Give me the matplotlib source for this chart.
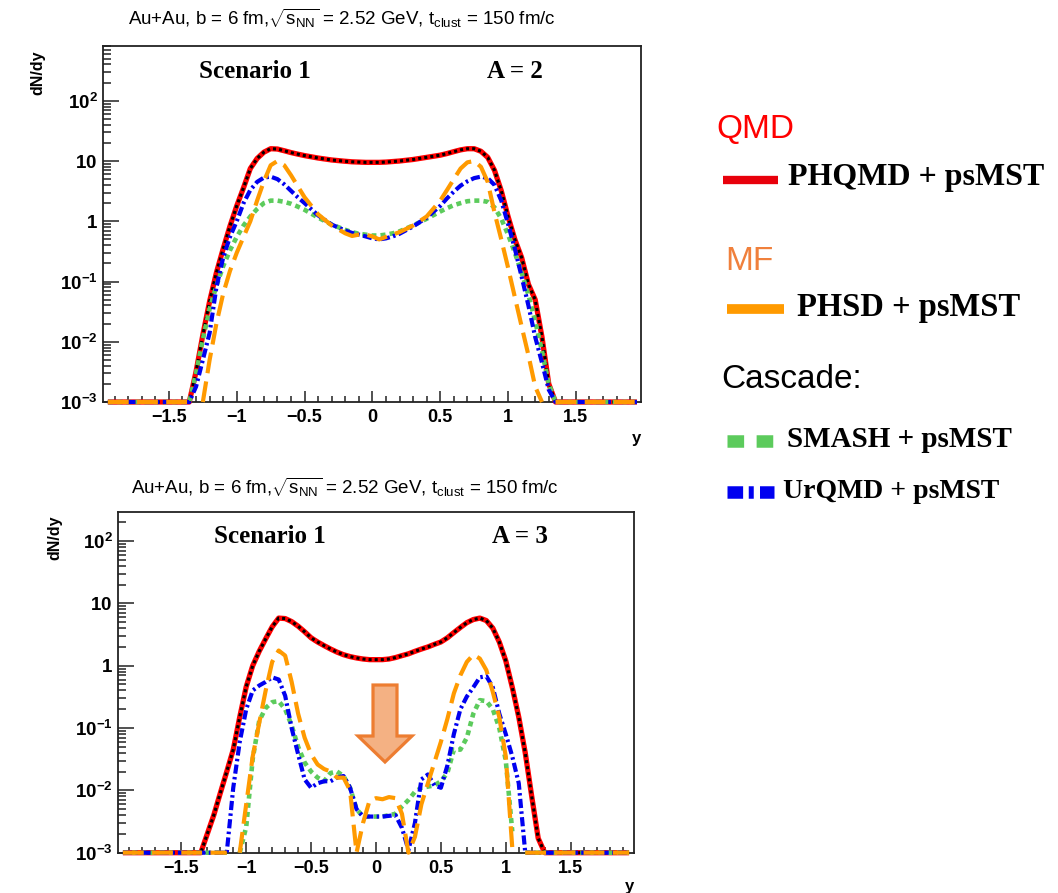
import numpy as np
import matplotlib
matplotlib.use('Agg')
import matplotlib.pyplot as plt
from matplotlib.lines import Line2D
from matplotlib.patches import Polygon
from matplotlib.ticker import FixedLocator, LogLocator, MultipleLocator, NullFormatter

plt.rcParams['font.family'] = ['Liberation Sans', 'DejaVu Sans']
plt.rcParams['mathtext.fontset'] = 'custom'
plt.rcParams['mathtext.rm'] = 'Liberation Sans'
plt.rcParams['mathtext.it'] = 'Liberation Sans:italic'
plt.rcParams['mathtext.bf'] = 'Liberation Sans:bold'
plt.rcParams['axes.unicode_minus'] = True

NA = np.nan
YMIN = 1e-3

# ---------------- data ----------------
# rapidity grid, top panel (A = 2)
Y_TOP = [-1.95, -1.35, -1.30, -1.25, -1.20, -1.15, -1.10, -1.05, -1.00, -0.95,
         -0.90, -0.85, -0.80, -0.75, -0.70, -0.65, -0.60, -0.55, -0.50, -0.40,
         -0.30, -0.20, -0.15, -0.10, -0.05, 0.00, 0.05, 0.10, 0.15, 0.20,
         0.30, 0.40, 0.50, 0.55, 0.60, 0.65, 0.70, 0.75, 0.80, 0.85,
         0.90, 0.95, 1.00, 1.05, 1.10, 1.15, 1.20, 1.25, 1.30, 1.35, 1.95]
# 0 = empty bin (drawn on the lower edge), NA = not drawn
PHQMD_A2 = [0, 0, 0.0032, 0.013, 0.047, 0.14, 0.35, 0.83, 1.8, 3.6,
            7.5, 11, 14, 16, 15.8, 14.8, 13.8, 13, 12.3, 11.2,
            10.4, 9.9, 9.7, 9.6, 9.5, 9.5, 9.5, 9.6, 9.8, 10,
            10.6, 11.5, 12.5, 13.3, 14.3, 15.3, 16, 16, 14.5, 11.5,
            7, 3.2, 1.2, 0.5, 0.25, 0.09, 0.05, 0.012, 0.002, 0, 0]
PHSD_A2 = [0, 0, NA, 0, 0.005, 0.02, 0.063, 0.15, 0.3, 0.55,
           1.0, 2.2, 4.6, 8.5, 10, 8.5, 5.8, 3.8, 2.5, 1.3,
           0.85, 0.63, 0.57, 0.6, 0.6, 0.56, 0.5, 0.55, 0.6, 0.66,
           0.85, 1.2, 2.2, 3.3, 5, 7.5, 9.5, 10, 8, 4.5,
           1.4, 0.5, 0.17, 0.055, 0.018, 0.006, 0.0018, 0, NA, 0, 0]
SMASH_A2 = [0, 0, 0.003, 0.011, 0.035, 0.085, 0.18, 0.33, 0.55, 0.85,
            1.2, 1.6, 2.0, 2.2, 2.2, 2.1, 1.95, 1.75, 1.55, 1.15,
            0.88, 0.72, 0.66, 0.62, 0.6, 0.58, 0.58, 0.6, 0.63, 0.68,
            0.85, 1.1, 1.45, 1.65, 1.85, 2.0, 2.15, 2.2, 2.2, 2.1,
            1.7, 1.1, 0.6, 0.3, 0.14, 0.06, 0.022, 0.007, 0.002, 0, 0]
URQMD_A2 = [0, 0, 0.0018, 0.005, 0.014, 0.08, 0.25, 0.55, 1.0, 2.0,
            3.3, 4.5, 5.3, 5.5, 5.0, 4.1, 3.2, 2.5, 2.0, 1.25,
            0.88, 0.7, 0.64, 0.6, 0.56, 0.52, 0.5, 0.52, 0.56, 0.62,
            0.82, 1.15, 1.8, 2.4, 3.1, 3.9, 4.6, 5.2, 5.5, 5.2,
            4.0, 2.2, 0.9, 0.35, 0.12, 0.04, 0.012, 0.0045, 0.0016, 0, 0]

# rapidity grid, bottom panel (A = 3)
Y_BOT = [-1.95, -1.35, -1.30, -1.25, -1.20, -1.15, -1.10, -1.05, -1.00, -0.95,
         -0.90, -0.85, -0.80, -0.75, -0.70, -0.65, -0.60, -0.55, -0.50, -0.45,
         -0.40, -0.35, -0.30, -0.25, -0.20, -0.15, -0.10, -0.05, 0.00, 0.05,
         0.10, 0.15, 0.20, 0.25, 0.30, 0.35, 0.40, 0.45, 0.50, 0.55,
         0.60, 0.65, 0.70, 0.75, 0.80, 0.85, 0.90, 0.95, 1.00, 1.05,
         1.10, 1.15, 1.20, 1.25, 1.30, 1.95]
PHQMD_A3 = [0, 0, 0.002, 0.004, 0.009, 0.02, 0.045, 0.15, 0.46, 1.0,
            1.7, 2.7, 4.2, 5.8, 5.7, 5.1, 4.3, 3.5, 2.8, 2.4,
            2.1, 1.85, 1.65, 1.5, 1.4, 1.33, 1.28, 1.25, 1.25, 1.25,
            1.28, 1.35, 1.45, 1.55, 1.7, 1.85, 2.0, 2.2, 2.4, 2.8,
            3.4, 4.1, 4.9, 5.5, 5.8, 5.3, 4.0, 2.4, 1.2, 0.45,
            0.15, 0.04, 0.008, 0.0017, 0, 0]
PHSD_A3 = [0, 0, 0, 0, 0, 0, NA, 0, 0.006, 0.035,
           0.12, 0.4, 1.15, 1.75, 1.45, 0.55, 0.17, 0.07, 0.038, 0.026,
           0.022, 0.02, 0.016, 0.016, 0.01, 0, 0.003, 0.0068, 0.0075, 0.0072,
           0.0078, 0.0075, 0.0042, 0, 0.0018, 0.006, 0.013, 0.028, 0.06, 0.14,
           0.36, 0.7, 1.15, 1.5, 1.3, 0.85, 0.38, 0.15, 0.035, 0.0012,
           NA, 0, 0, 0, 0, 0]
SMASH_A3 = [0, 0, 0, 0, 0, 0, NA, 0, 0.0026, 0.032,
            0.13, 0.21, 0.26, 0.27, 0.2, 0.11, 0.05, 0.028, 0.02, 0.016,
            0.014, 0.019, 0.02, 0.017, 0.011, 0.005, 0.0038, 0.0038, 0.0038, 0.0038,
            0.004, 0.0042, 0.0055, 0.007, 0.0095, 0.011, 0.0115, 0.012, 0.014, 0.019,
            0.045, 0.045, 0.07, 0.17, 0.28, 0.27, 0.2, 0.1, 0.03, 0.0022,
            NA, 0, 0, 0, 0, 0]
URQMD_A3 = [0, 0, 0, 0, 0, 0, 0.011, 0.06, 0.2, 0.4,
            0.48, 0.55, 0.65, 0.6, 0.33, 0.1, 0.038, 0.015, 0.011, 0.013,
            0.014, 0.014, 0.016, 0.017, 0.011, 0.005, 0.0038, 0.0038, 0.0038, 0.0038,
            0.0039, 0.004, 0.0025, 0.0011, 0.003, 0.015, 0.018, 0.012, 0.011, 0.025,
            0.08, 0.2, 0.32, 0.45, 0.65, 0.68, 0.45, 0.17, 0.08, 0.035,
            0.013, 0, 0, 0, 0, 0]

Y_TICKS = [1e-3, 1e-2, 1e-1, 1, 10, 100]
Y_LABELS = [r'$\mathbf{10^{-3}}$', r'$\mathbf{10^{-2}}$', r'$\mathbf{10^{-1}}$',
            r'$\mathbf{1}$', r'$\mathbf{10}$', r'$\mathbf{10^{2}}$']
X_TICKS = [-1.5, -1.0, -0.5, 0.0, 0.5, 1.0, 1.5]
X_LABELS = ['\u22121.5', '\u22121', '\u22120.5', '0', '0.5', '1', '1.5']

TITLE = (r'Au+Au, b = 6 fm,$\sqrt{\mathrm{s}_{\mathrm{NN}}}$ = 2.52 GeV, '
         r't$_{\mathrm{clust}}$ = 150 fm/c')
MODELS = ['PHQMD + psMST', 'PHSD + psMST', 'SMASH + psMST', 'UrQMD + psMST']

RED = '#FF0000'
ORANGE = '#FF9A00'
GREEN = '#5CCB5C'
BLUE = '#0000F0'

# ---------------- figure ----------------
W, H = 1058, 893
fig = plt.figure(figsize=(W / 100, H / 100), dpi=100)


def fx(px):
    return px / W


def fy(py):
    return 1 - py / H


ax1 = fig.add_axes([fx(103), fy(402), (641 - 103) / W, (402 - 45.7) / H])
ax2 = fig.add_axes([fx(118), fy(852.7), (634 - 118) / W, (852.7 - 512) / H])


def style(ax, ymax, xlo, xhi):
    ax.set_yscale('log')
    ax.set_ylim(YMIN, ymax)
    ax.set_xlim(xlo, xhi)
    for s in ax.spines.values():
        s.set_linewidth(1.3)
        s.set_color('#222222')
    ax.yaxis.set_major_locator(FixedLocator(Y_TICKS))
    ax.set_yticklabels(Y_LABELS)
    ax.yaxis.set_minor_locator(LogLocator(base=10, subs=np.arange(2, 10)))
    ax.yaxis.set_minor_formatter(NullFormatter())
    ax.xaxis.set_major_locator(FixedLocator(X_TICKS))
    ax.set_xticklabels(X_LABELS)
    ax.xaxis.set_minor_locator(MultipleLocator(0.1))
    ax.tick_params(axis='both', which='both', direction='in', top=False,
                   right=False, color='#222222', width=1.1)
    ax.tick_params(axis='y', which='major', length=11.5, pad=4, labelsize=13.5)
    ax.tick_params(axis='y', which='minor', length=5.5)
    ax.tick_params(axis='x', which='major', length=8, pad=5, labelsize=13)
    ax.tick_params(axis='x', which='minor', length=4)
    for lab in ax.get_xticklabels() + ax.get_yticklabels():
        lab.set_fontweight('bold')


def draw(ax, x, vals, **kw):
    y = np.array(vals, dtype=float)
    y = np.where(y == 0, YMIN, y)
    ax.plot(x, y, clip_on=False, solid_capstyle='butt', dash_capstyle='butt',
            solid_joinstyle='round', **kw)


def draw_panel(ax, x, red, orange, green, blue):
    draw(ax, x, red, color=RED, lw=3.8, zorder=3)
    draw(ax, x, red, color='black', lw=2.2, linestyle=(0, (1, 1)), zorder=4)
    draw(ax, x, green, color=GREEN, lw=3.3, linestyle=(0, (1.1, 0.9)), zorder=5)
    draw(ax, x, blue, color=BLUE, lw=3.0, linestyle=(0, (2.2, 0.8, 0.6, 0.8)), zorder=6)
    draw(ax, x, orange, color=ORANGE, lw=3.0, linestyle=(0, (5, 2)), zorder=7)


style(ax1, 820, -1.986, 1.98)
style(ax2, 292, -1.988, 1.988)
draw_panel(ax1, Y_TOP, PHQMD_A2, PHSD_A2, SMASH_A2, URQMD_A2)
draw_panel(ax2, Y_BOT, PHQMD_A3, PHSD_A3, SMASH_A3, URQMD_A3)

serif = ['Liberation Serif', 'DejaVu Serif']
for ax, label, xs, xa in [(ax1, 'A = 2', 0.283, 0.766), (ax2, 'A = 3', 0.295, 0.779)]:
    ax.text(xs, 0.928, 'Scenario 1', transform=ax.transAxes, ha='center', va='center',
            fontsize=18, fontweight='bold', family=serif)
    ax.text(xa, 0.928, label, transform=ax.transAxes, ha='center', va='center',
            fontsize=18, fontweight='bold', family=serif)

# titles and axis labels
fig.text(fx(342), fy(18), TITLE, ha='center', va='center', fontsize=13.5)
fig.text(fx(345), fy(487), TITLE, ha='center', va='center', fontsize=13.5)
fig.text(fx(38), fy(73), 'dN/dy', rotation=90, ha='center', va='center',
         fontsize=11.5, fontweight='bold')
fig.text(fx(55), fy(538), 'dN/dy', rotation=90, ha='center', va='center',
         fontsize=11.5, fontweight='bold')
fig.text(fx(636), fy(438), 'y', ha='center', va='center', fontsize=12, fontweight='bold')
fig.text(fx(629), fy(886), 'y', ha='center', va='center', fontsize=12, fontweight='bold')

# arrow annotation in the lower panel
arrow_px = [(373, 685), (397, 685), (397, 736), (412, 736), (385, 762), (358, 736), (373, 736)]
fig.patches.append(Polygon([(fx(a), fy(b)) for a, b in arrow_px], closed=True,
                           transform=fig.transFigure, facecolor='#F4B183',
                           edgecolor='#ED7D31', lw=2.3, joinstyle='miter', zorder=10))

# legend on the right
head = dict(family=['Liberation Sans', 'DejaVu Sans'], fontweight='normal')
fig.text(fx(716), fy(130), 'QMD', color=RED, fontsize=24, ha='left', va='center', **head)
fig.text(fx(725), fy(261), 'MF', color='#F0803C', fontsize=24, ha='left', va='center', **head)
fig.text(fx(721), fy(380), 'Cascade:', color='black', fontsize=24, ha='left', va='center', **head)

fig.add_artist(Line2D([fx(723), fx(778)], [fy(180), fy(180)], color='#E8000B', lw=6,
                      solid_capstyle='butt', transform=fig.transFigure))
fig.add_artist(Line2D([fx(727), fx(784)], [fy(309), fy(309)], color=ORANGE, lw=7,
                      solid_capstyle='butt', transform=fig.transFigure))
fig.add_artist(Line2D([fx(727), fx(773)], [fy(441), fy(441)], color=GREEN, lw=9,
                      linestyle=(0, (1.33, 1.0)), dash_capstyle='butt', transform=fig.transFigure))
fig.add_artist(Line2D([fx(727), fx(774)], [fy(492), fy(492)], color=BLUE, lw=9,
                      linestyle=(0, (1.25, 0.45, 0.4, 0.5)), dash_capstyle='butt',
                      transform=fig.transFigure))

leg_text = [(788, 178, 23), (797, 307, 23.5), (787, 440, 21), (783, 491, 20)]
for name, (px, py, fs) in zip(MODELS, leg_text):
    fig.text(fx(px), fy(py), name, ha='left', va='center', fontsize=fs,
             fontweight='bold', family=serif)

fig.savefig('out.png', dpi=100)
